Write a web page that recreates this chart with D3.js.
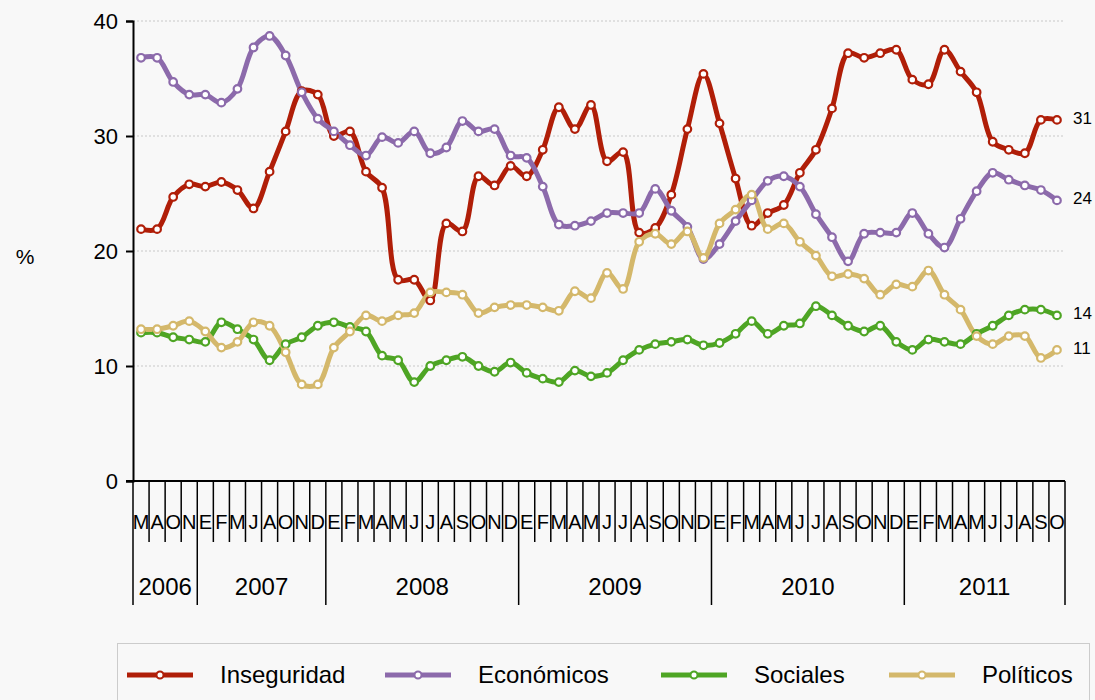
<!DOCTYPE html>
<html><head><meta charset="utf-8">
<script src="https://cdn.jsdelivr.net/npm/d3@7"></script>
<style>
html,body{margin:0;padding:0;background:#f8f8f8;}
svg{display:block;font-family:"Liberation Sans",Arial,sans-serif;}
</style></head>
<body>
<svg id="chart" width="1095" height="700"></svg>
<script>
const monthLabels = ["M","A","O","N",
 "E","F","M","J","A","O","N","D",
 "E","F","M","A","M","J","J","A","S","O","N","D",
 "E","F","M","A","M","J","J","A","S","O","N","D",
 "E","F","M","A","M","J","J","A","S","O","N","D",
 "E","F","M","A","M","J","J","A","S","O"];
const yearLabels = ["2006","2007","2008","2009","2010","2011"];
const yearCounts = [4,8,12,12,12,10];
const yTicks = [0,10,20,30,40];

const inseguridad = [21.9,21.9,24.7,25.8,25.6,26.0,25.3,23.7,26.9,30.4,33.9,33.6,
 30.0,30.4,26.9,25.5,17.5,17.5,15.7,22.4,21.7,26.5,25.7,27.4,
 26.5,28.8,32.5,30.6,32.7,27.8,28.6,21.6,22.0,24.9,30.6,35.4,
 31.1,26.3,22.2,23.3,24.0,26.8,28.8,32.4,37.2,36.8,37.2,37.5,
 34.9,34.5,37.5,35.6,33.8,29.5,28.8,28.5,31.4,31.4];
const economicos = [36.8,36.8,34.7,33.6,33.6,32.9,34.1,37.7,38.7,37.0,33.8,31.5,
 30.4,29.2,28.3,29.9,29.4,30.4,28.5,29.0,31.3,30.4,30.6,28.3,
 28.1,25.6,22.3,22.2,22.6,23.3,23.3,23.3,25.4,23.5,22.1,19.3,
 20.6,22.6,24.4,26.1,26.5,25.6,23.2,21.2,19.1,21.5,21.6,21.6,
 23.3,21.5,20.3,22.8,25.2,26.8,26.2,25.7,25.3,24.4];
const sociales = [12.9,12.9,12.5,12.3,12.1,13.8,13.2,12.3,10.5,11.9,12.5,13.5,
 13.8,13.4,13.0,10.9,10.5,8.6,10.0,10.5,10.8,10.0,9.5,10.3,
 9.4,8.9,8.6,9.6,9.1,9.4,10.5,11.4,11.9,12.1,12.3,11.8,
 12.0,12.8,13.9,12.8,13.5,13.7,15.2,14.4,13.5,13.0,13.5,12.1,
 11.4,12.3,12.1,11.9,12.8,13.5,14.4,14.9,14.9,14.4];
const politicos = [13.2,13.2,13.5,13.9,13.0,11.6,12.1,13.8,13.5,11.2,8.4,8.4,
 11.6,13.0,14.4,13.9,14.4,14.6,16.4,16.4,16.2,14.6,15.1,15.3,
 15.3,15.1,14.8,16.5,15.9,18.1,16.7,20.8,21.5,20.6,21.7,19.4,
 22.4,23.6,24.9,21.9,22.4,20.8,19.6,17.8,18.0,17.6,16.2,17.1,
 16.9,18.3,16.2,14.9,12.6,11.9,12.6,12.6,10.7,11.4];
const seriesNames = ["Inseguridad","Económicos","Sociales","Políticos"];
const seriesColors = ["#b01e08","#8c6aab","#4ea524","#d4b86b"];
const endLabels = ["31","24","14","11"];

(function(){
const series = [inseguridad, economicos, sociales, politicos].map((v,i)=>({
  name: seriesNames[i], color: seriesColors[i], values: v, label: endLabels[i]}));

const svg = d3.select("#chart");
const pLeft = 133, pRight = 1065, pTop = 21, pBottom = 481;
const x = d3.scaleBand().domain(d3.range(monthLabels.length)).range([pLeft,pRight]).padding(0);
const y = d3.scaleLinear().domain([0,40]).range([pBottom, pTop]);
const bw = x.bandwidth();
const cx = i => x(i) + bw/2;

svg.append("rect").attr("width",1095).attr("height",700).attr("fill","#f8f8f8");

// grid
svg.append("g").selectAll("line").data(yTicks.filter(d=>d>0)).join("line")
  .attr("x1",pLeft).attr("x2",pRight).attr("y1",d=>y(d)).attr("y2",d=>y(d))
  .attr("stroke","#c8c8c8").attr("stroke-width",1).attr("stroke-dasharray","2,2");

// y axis
const yAxis = svg.append("g").attr("transform",`translate(${pLeft},0)`)
  .call(d3.axisLeft(y).tickValues(yTicks).tickSize(7).tickPadding(8));
yAxis.select(".domain").attr("stroke","#000").attr("stroke-width",2);
yAxis.selectAll(".tick line").attr("stroke","#000").attr("stroke-width",2);
yAxis.selectAll("text").attr("font-size",22).attr("fill","#000")
  .attr("font-family","Liberation Sans, Arial, sans-serif");

svg.append("text").attr("x",25).attr("y",257).attr("dy","0.35em")
  .attr("text-anchor","middle").attr("font-size",21).text("%");

// x axis line
svg.append("line").attr("x1",pLeft-7).attr("x2",pRight).attr("y1",pBottom).attr("y2",pBottom)
  .attr("stroke","#000").attr("stroke-width",2);

const boundaries = d3.range(monthLabels.length+1).map(i => i < monthLabels.length ? x(i) : pRight);
const yearStarts = Array.from(d3.cumsum([0].concat(yearCounts)));
const yearBoundarySet = new Set(yearStarts);
svg.append("g").selectAll("line").data(d3.range(monthLabels.length+1)).join("line")
  .attr("x1",i=>boundaries[i]).attr("x2",i=>boundaries[i])
  .attr("y1",pBottom).attr("y2",i=> yearBoundarySet.has(i) ? 605 : 542)
  .attr("stroke","#000").attr("stroke-width",1.5);

svg.append("g").selectAll("text").data(monthLabels).join("text")
  .attr("x",(d,i)=>cx(i)).attr("y",522).attr("dy","0.35em")
  .attr("text-anchor","middle").attr("font-size",20).attr("fill","#000").text(d=>d);

svg.append("g").selectAll("text").data(yearLabels).join("text")
  .attr("x",(d,i)=> (boundaries[yearStarts[i]] + boundaries[yearStarts[i+1]])/2)
  .attr("y",587).attr("dy","0.35em").attr("text-anchor","middle")
  .attr("font-size",24).attr("fill","#000").text(d=>d);

// lines
const line = d3.line().x((d,i)=>cx(i)).y(d=>y(d)).curve(d3.curveCatmullRom.alpha(0.5));
const g = svg.append("g");
series.forEach(s=>{
  g.append("path").attr("d",line(s.values)).attr("fill","none")
    .attr("stroke",s.color).attr("stroke-width",5).attr("stroke-linejoin","round");
});
series.forEach(s=>{
  g.append("g").selectAll("circle").data(s.values).join("circle")
    .attr("cx",(d,i)=>cx(i)).attr("cy",d=>y(d)).attr("r",3.8)
    .attr("fill","#fff").attr("stroke",s.color).attr("stroke-width",2.2);
});
series.forEach(s=>{
  const n = s.values.length-1;
  svg.append("text").attr("x",cx(n)+16).attr("y",y(s.values[n])-2).attr("dy","0.35em")
    .attr("font-size",17).attr("fill","#000").text(s.label);
});

// legend
svg.append("rect").attr("x",117.5).attr("y",643.5).attr("width",972).attr("height",70)
  .attr("fill","#f8f8f8").attr("stroke","#cccccc").attr("stroke-width",1);
const legX = [127, 385, 661, 889];
const lg = svg.append("g").selectAll("g").data(series).join("g")
  .attr("transform",(d,i)=>`translate(${legX[i]},675)`);
lg.append("line").attr("x1",0).attr("x2",66).attr("stroke",d=>d.color).attr("stroke-width",5);
lg.append("circle").attr("cx",33).attr("r",3.5).attr("fill","#fff")
  .attr("stroke",d=>d.color).attr("stroke-width",2);
lg.append("text").attr("x",93).attr("dy","0.35em").attr("font-size",24).attr("fill","#000")
  .text(d=>d.name);
})();
</script>
</body></html>
